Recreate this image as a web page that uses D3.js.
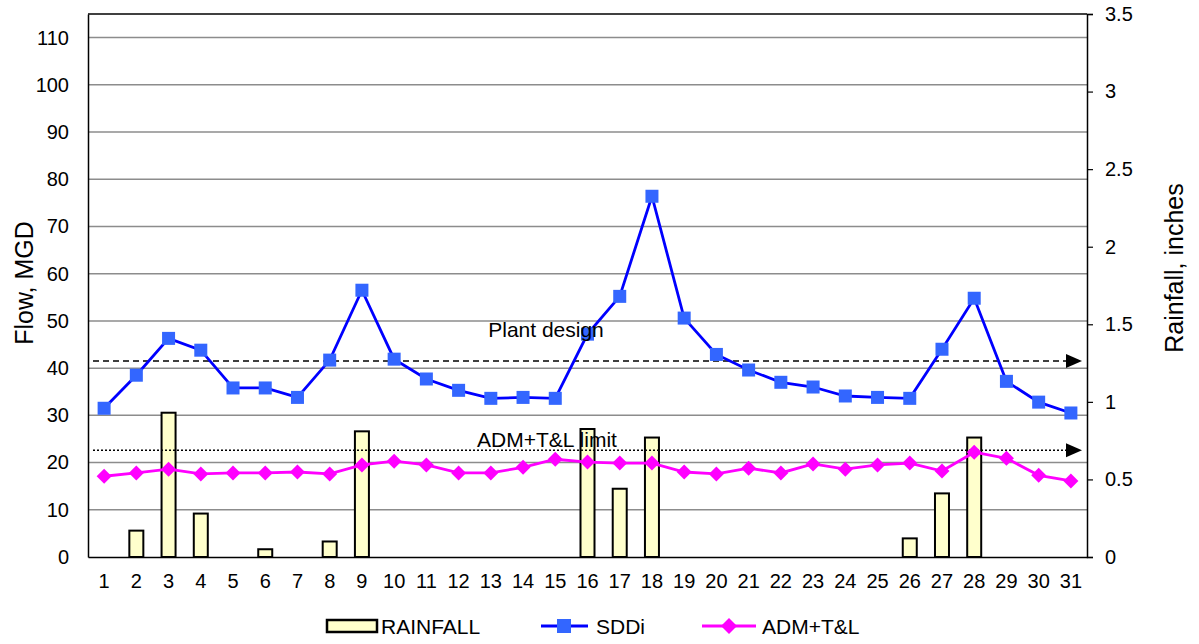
<!DOCTYPE html>
<html>
<head>
<meta charset="utf-8">
<script src="https://d3js.org/d3.v7.min.js"></script>
<style>
  body { margin: 0; background: #fff; }
  text { font-family: "Liberation Sans", Arial, sans-serif; }
</style>
</head>
<body>
<svg id="chart"></svg>
<script>
const days = d3.range(1, 32)
const rainfall = [0, 0.17, 0.93, 0.28, 0, 0.05, 0, 0.1, 0.81, 0, 0, 0, 0, 0, 0, 0.825, 0.44, 0.77, 0, 0, 0, 0, 0, 0, 0, 0.12, 0.41, 0.77, 0, 0, 0]
const sddi = [31.5, 38.5, 46.3, 43.8, 35.8, 35.8, 33.8, 41.7, 56.5, 41.9, 37.7, 35.3, 33.6, 33.8, 33.6, 47.2, 55.2, 76.4, 50.6, 42.9, 39.6, 37.0, 36.0, 34.1, 33.8, 33.6, 44.0, 54.8, 37.2, 32.8, 30.5]
const admTL = [17.1, 17.8, 18.6, 17.6, 17.8, 17.8, 18.0, 17.6, 19.5, 20.3, 19.5, 17.8, 17.8, 19.0, 20.7, 20.1, 19.9, 19.9, 18.0, 17.6, 18.8, 17.8, 19.7, 18.6, 19.5, 19.9, 18.2, 22.2, 20.9, 17.3, 16.1]
const plantDesign = 41.5
const admLimit = 22.6
const flowTicks = d3.range(0, 111, 10)
const rainTicks = d3.range(0, 3.51, 0.5)

const W = 1199, H = 644
const m = { left: 88, right: 112, top: 14, bottom: 87 }

const svg = d3.select('#chart').attr('width', W).attr('height', H)

const x = d3.scaleBand().domain(days).range([m.left, W - m.right])
const yL = d3.scaleLinear().domain([0, 115]).range([H - m.bottom, m.top])
const yR = d3.scaleLinear().domain([0, 3.5]).range([H - m.bottom, m.top])
const cx = d => x(d) + x.bandwidth() / 2

// gridlines
svg.append('g').selectAll('line')
  .data(flowTicks.filter(d => d > 0))
  .join('line')
    .attr('x1', m.left).attr('x2', W - m.right)
    .attr('y1', d => yL(d)).attr('y2', d => yL(d))
    .attr('stroke', '#8c8c8c').attr('stroke-width', 1.5)

// bars
svg.append('g').selectAll('rect')
  .data(days.map((d, i) => ({ d, v: rainfall[i] })).filter(o => o.v > 0))
  .join('rect')
    .attr('x', o => cx(o.d) - 7)
    .attr('width', 14)
    .attr('y', o => yR(o.v))
    .attr('height', o => yR(0) - yR(o.v))
    .attr('fill', '#ffffcc')
    .attr('stroke', '#000').attr('stroke-width', 2)

// reference lines (labels drawn later, on top)
function refLine(v, dash) {
  const y = yL(v)
  svg.append('line')
    .attr('x1', m.left + 5).attr('x2', 1068)
    .attr('y1', y).attr('y2', y)
    .attr('stroke', '#000').attr('stroke-width', 1.5)
    .attr('stroke-dasharray', dash)
  svg.append('path')
    .attr('d', `M1066,${y - 7}L1082,${y}L1066,${y + 7}Z`)
    .attr('fill', '#000')
}
refLine(plantDesign, '6,4')
refLine(admLimit, '2,2')

// SDDi line
svg.append('path')
  .datum(sddi)
  .attr('fill', 'none').attr('stroke', '#0000ff').attr('stroke-width', 2.8)
  .attr('d', d3.line().x((v, i) => cx(days[i])).y(v => yL(v)))
svg.append('g').selectAll('rect')
  .data(sddi)
  .join('rect')
    .attr('x', (v, i) => cx(days[i]) - 6.5)
    .attr('y', v => yL(v) - 6.5)
    .attr('width', 13).attr('height', 13)
    .attr('fill', '#3366ff')

// ADM+T&L line
svg.append('path')
  .datum(admTL)
  .attr('fill', 'none').attr('stroke', '#ff00ff').attr('stroke-width', 2.8)
  .attr('d', d3.line().x((v, i) => cx(days[i])).y(v => yL(v)))
const diamond = 'M0,-7.5L7.5,0L0,7.5L-7.5,0Z'
svg.append('g').selectAll('path')
  .data(admTL)
  .join('path')
    .attr('transform', (v, i) => `translate(${cx(days[i])},${yL(v)})`)
    .attr('d', diamond)
    .attr('fill', '#ff00ff')

// reference labels
svg.append('text').attr('x', 546).attr('y', 337)
  .attr('text-anchor', 'middle').attr('font-size', 21).text('Plant design')
svg.append('text').attr('x', 547).attr('y', 447)
  .attr('text-anchor', 'middle').attr('font-size', 21).text('ADM+T&L limit')

// frame
svg.append('line')
  .attr('x1', m.left).attr('x2', W - m.right)
  .attr('y1', m.top).attr('y2', m.top)
  .attr('stroke', '#000').attr('stroke-width', 1.5)

// axes
const axL = svg.append('g')
  .attr('transform', `translate(${m.left},0)`)
  .call(d3.axisLeft(yL).tickValues(flowTicks).tickSize(0).tickPadding(19))
const axR = svg.append('g')
  .attr('transform', `translate(${W - m.right},0)`)
  .call(d3.axisRight(yR).tickValues(rainTicks).tickSize(6).tickPadding(12)
    .tickFormat(d => d === 0 ? '0' : d3.format('~g')(d)))
const axB = svg.append('g')
  .attr('transform', `translate(0,${H - m.bottom})`)
  .call(d3.axisBottom(x).tickSize(0).tickPadding(17))

;[axL, axR, axB].forEach(a => {
  a.select('.domain').attr('stroke', '#000').attr('stroke-width', 1.5)
  a.selectAll('.tick line').attr('stroke', '#000').attr('stroke-width', 1.2)
  a.selectAll('text').attr('font-size', 20).attr('fill', '#000')
    .attr('font-family', '"Liberation Sans", Arial, sans-serif')
})

// axis titles
svg.append('text')
  .attr('transform', 'translate(33,283) rotate(-90)')
  .attr('text-anchor', 'middle')
  .attr('font-size', 25)
  .text('Flow, MGD')
svg.append('text')
  .attr('transform', 'translate(1183,268) rotate(-90)')
  .attr('text-anchor', 'middle')
  .attr('font-size', 25)
  .text('Rainfall, inches')

// legend
const lg = svg.append('g').attr('font-size', 21)
lg.append('rect').attr('x', 327).attr('y', 620).attr('width', 50).attr('height', 12)
  .attr('fill', '#ffffcc').attr('stroke', '#000').attr('stroke-width', 2.5)
lg.append('text').attr('x', 381).attr('y', 634).text('RAINFALL')
lg.append('line').attr('x1', 541).attr('x2', 588).attr('y1', 626).attr('y2', 626)
  .attr('stroke', '#0000ff').attr('stroke-width', 2.8)
lg.append('rect').attr('x', 557).attr('y', 619).attr('width', 14).attr('height', 14).attr('fill', '#3366ff')
lg.append('text').attr('x', 596).attr('y', 634).text('SDDi')
lg.append('line').attr('x1', 702).attr('x2', 756).attr('y1', 626).attr('y2', 626)
  .attr('stroke', '#ff00ff').attr('stroke-width', 2.8)
lg.append('path').attr('transform', 'translate(729,626)').attr('d', 'M0,-8L8,0L0,8L-8,0Z').attr('fill', '#ff00ff')
lg.append('text').attr('x', 762).attr('y', 634).text('ADM+T&L')
</script>
</body>
</html>
